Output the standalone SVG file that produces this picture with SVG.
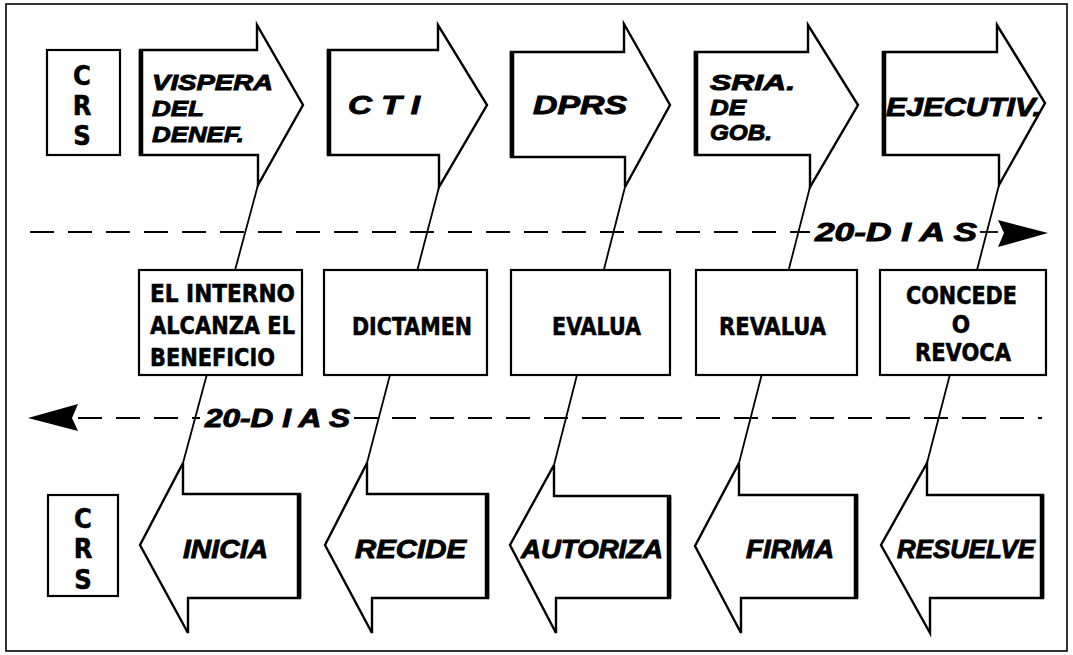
<svg xmlns="http://www.w3.org/2000/svg" xmlns:xlink="http://www.w3.org/1999/xlink" width="1073" height="655" viewBox="0 0 1073 655">
<style>
.frame{fill:none;stroke:#000;stroke-width:1.6}
.arr{fill:#fff;stroke:#000;stroke-width:2.4;stroke-linejoin:miter}
.thick{stroke:#000;stroke-width:4.5;fill:none}
.box{fill:#fff;stroke:#000;stroke-width:2.2}
.conn{stroke:#000;stroke-width:1.8;fill:none}
.dash{stroke:#000;stroke-width:2;fill:none;stroke-dasharray:24 14}
.it{font-family:"Liberation Sans",Arial,sans-serif;font-weight:bold;font-style:italic;font-size:25px;fill:#000;stroke:#000;stroke-width:0.9}
.sm{font-size:22px}
.nb{font-family:"Liberation Sans Narrow","DejaVu Sans Condensed","Liberation Sans",sans-serif;font-weight:bold;font-size:24px;fill:#000;stroke:#000;stroke-width:0.5}
.crs{font-family:"Liberation Sans Narrow","DejaVu Sans Condensed","Liberation Sans",sans-serif;font-weight:bold;font-size:27px;fill:#000;stroke:#000;stroke-width:0.5;text-anchor:middle}
</style>
<defs>
<path id="pennant" d="M0,0 L50,13 L0,27 L6,13 Z" fill="#000"/>
</defs>
<rect class="frame" x="6" y="4" width="1061" height="647"/>

<g id="connectors">
<line class="conn" x1="258" y1="185" x2="183" y2="463"/>
<line class="conn" x1="439" y1="187" x2="367" y2="463"/>
<line class="conn" x1="625" y1="187" x2="554" y2="465"/>
<line class="conn" x1="810" y1="187" x2="739" y2="463"/>
<line class="conn" x1="999" y1="185" x2="927" y2="463"/>
<g id="timeline-top">
<line class="dash" x1="30" y1="232" x2="810" y2="232"/>
<line class="conn" x1="980" y1="232" x2="998" y2="232"/>
<use xlink:href="#pennant" transform="translate(998,220)"/>
<text class="it" x="815" y="241" textLength="162" lengthAdjust="spacingAndGlyphs">20-D I A S</text>
</g>
<g id="timeline-bottom">
<use xlink:href="#pennant" transform="translate(78,431) rotate(180)"/>
<line class="dash" x1="78" y1="418" x2="200" y2="418"/>
<line class="dash" x1="354" y1="418" x2="1042" y2="418"/>
<text class="it" x="205" y="427" textLength="145" lengthAdjust="spacingAndGlyphs">20-D I A S</text>
</g>
</g>

<g id="crs-top">
<rect class="box" x="47" y="50" width="73" height="105"/>
<text class="crs" x="82" y="85">C</text>
<text class="crs" x="82" y="115">R</text>
<text class="crs" x="82" y="145">S</text>
</g>

<g id="top-vispera">
<polygon class="arr" points="140,50 257,50 257,25 303,105 258,185 258,155 140,155"/>
<line class="thick" x1="141" y1="50" x2="141" y2="155"/>
<text class="it sm" x="152" y="90" textLength="121" lengthAdjust="spacingAndGlyphs">VISPERA</text>
<text class="it sm" x="152" y="116" textLength="52" lengthAdjust="spacingAndGlyphs">DEL</text>
<text class="it sm" x="152" y="142" textLength="92" lengthAdjust="spacingAndGlyphs">DENEF.</text>
</g>
<g id="top-cti">
<polygon class="arr" points="328,50 438,50 438,25 487,105 439,187 439,155 328,155"/>
<line class="thick" x1="329" y1="50" x2="329" y2="155"/>
<text class="it" x="348" y="114" textLength="72" lengthAdjust="spacingAndGlyphs">C T I</text>
</g>
<g id="top-dprs">
<polygon class="arr" points="511,52 624,52 624,24 670,105 625,187 625,157 511,157"/>
<line class="thick" x1="512" y1="52" x2="512" y2="157"/>
<text class="it" x="533" y="114" textLength="94" lengthAdjust="spacingAndGlyphs">DPRS</text>
</g>
<g id="top-sria">
<polygon class="arr" points="695,52 808,52 808,25 858,105 810,187 810,155 695,155"/>
<line class="thick" x1="696" y1="52" x2="696" y2="155"/>
<text class="it sm" x="710" y="90" textLength="85" lengthAdjust="spacingAndGlyphs">SRIA.</text>
<text class="it sm" x="710" y="115" textLength="36" lengthAdjust="spacingAndGlyphs">DE</text>
<text class="it sm" x="710" y="140" textLength="62" lengthAdjust="spacingAndGlyphs">GOB.</text>
</g>
<g id="top-ejecutiv">
<polygon class="arr" points="883,52 997,52 997,25 1045,103 999,185 999,155 883,155"/>
<line class="thick" x1="884" y1="52" x2="884" y2="155"/>
<text class="it" x="886" y="116" textLength="155" lengthAdjust="spacingAndGlyphs">EJECUTIV.</text>
</g>

<g id="mid-interno">
<rect class="box" x="139" y="270" width="163" height="105"/>
<text class="nb" x="150" y="302" textLength="145" lengthAdjust="spacingAndGlyphs">EL INTERNO</text>
<text class="nb" x="150" y="334" textLength="145" lengthAdjust="spacingAndGlyphs">ALCANZA EL</text>
<text class="nb" x="150" y="366" textLength="125" lengthAdjust="spacingAndGlyphs">BENEFICIO</text>
</g>
<g id="mid-dictamen">
<rect class="box" x="324" y="270" width="163" height="105"/>
<text class="nb" x="352" y="335" textLength="120" lengthAdjust="spacingAndGlyphs">DICTAMEN</text>
</g>
<g id="mid-evalua">
<rect class="box" x="511" y="270" width="159" height="105"/>
<text class="nb" x="552" y="335" textLength="89" lengthAdjust="spacingAndGlyphs">EVALUA</text>
</g>
<g id="mid-revalua">
<rect class="box" x="696" y="270" width="161" height="105"/>
<text class="nb" x="719" y="335" textLength="107" lengthAdjust="spacingAndGlyphs">REVALUA</text>
</g>
<g id="mid-concede">
<rect class="box" x="880" y="270" width="166" height="105"/>
<text class="nb" x="906" y="304" textLength="111" lengthAdjust="spacingAndGlyphs">CONCEDE</text>
<text class="nb" x="961" y="333" text-anchor="middle">O</text>
<text class="nb" x="915" y="361" textLength="96" lengthAdjust="spacingAndGlyphs">REVOCA</text>
</g>

<g id="crs-bottom">
<rect class="box" x="48" y="495" width="70" height="101"/>
<text class="crs" x="83" y="528">C</text>
<text class="crs" x="83" y="558">R</text>
<text class="crs" x="83" y="589">S</text>
</g>

<g id="bot-inicia">
<polygon class="arr" points="140,545 183,463 183,494 300,494 300,598 188,598 188,633"/>
<line class="thick" x1="299" y1="494" x2="299" y2="598"/>
<text class="it" x="183" y="558" textLength="85" lengthAdjust="spacingAndGlyphs">INICIA</text>
</g>
<g id="bot-recide">
<polygon class="arr" points="325,545 367,463 367,494 488,494 488,598 372,598 372,633"/>
<line class="thick" x1="487" y1="494" x2="487" y2="598"/>
<text class="it" x="355" y="558" textLength="111" lengthAdjust="spacingAndGlyphs">RECIDE</text>
</g>
<g id="bot-autoriza">
<polygon class="arr" points="510,545 554,465 554,496 670,496 670,598 556,598 556,633"/>
<line class="thick" x1="669" y1="496" x2="669" y2="598"/>
<text class="it" x="521" y="558" textLength="142" lengthAdjust="spacingAndGlyphs">AUTORIZA</text>
</g>
<g id="bot-firma">
<polygon class="arr" points="695,546 739,463 739,495 857,495 857,598 741,598 741,633"/>
<line class="thick" x1="856" y1="495" x2="856" y2="598"/>
<text class="it" x="746" y="558" textLength="88" lengthAdjust="spacingAndGlyphs">FIRMA</text>
</g>
<g id="bot-resuelve">
<polygon class="arr" points="881,545 927,463 927,495 1043,495 1043,598 930,598 930,633"/>
<line class="thick" x1="1042" y1="495" x2="1042" y2="598"/>
<text class="it" x="897" y="558" textLength="138" lengthAdjust="spacingAndGlyphs">RESUELVE</text>
</g>
</svg>
